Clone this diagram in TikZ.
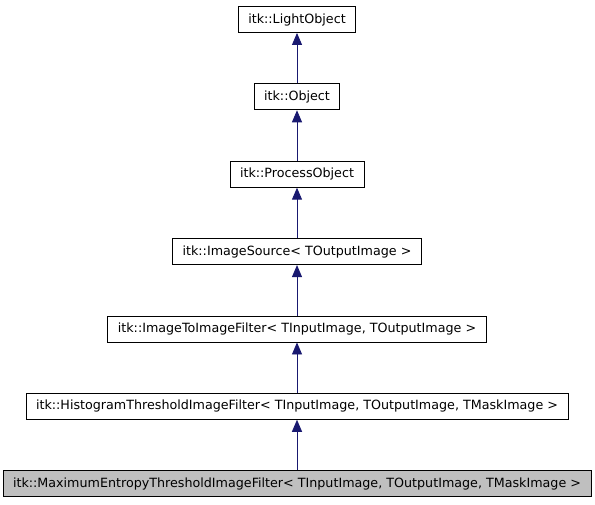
\documentclass[tikz,border=0pt]{standalone}
\usepackage{fontspec}
\setmainfont{DejaVu Sans}
\usetikzlibrary{arrows.meta}
\definecolor{edgeblue}{RGB}{25,25,112}

\begin{document}
\begin{tikzpicture}[x=1pt,y=1pt,font=\fontsize{12.7}{15}\selectfont,
 every node/.style={rectangle,draw=black,fill=white,line width=0.9pt,
 inner xsep=10pt,minimum height=26pt}]
 \useasboundingbox (0,0) rectangle (595,-504);
 \node (lo) at (297,-19.5) {itk::LightObject};
 \node (ob) at (297,-96.8) {itk::Object};
 \node (po) at (297,-174.2) {itk::ProcessObject};
 \node (is) at (297,-251.6) {itk::ImageSource< TOutputImage >};
 \node (iti) at (297,-329) {itk::ImageToImageFilter< TInputImage, TOutputImage >};
 \node (hti) at (297,-406.3) {itk::HistogramThresholdImageFilter< TInputImage, TOutputImage, TMaskImage >};
 \node[fill=black!25] (mti) at (297,-483.7) {itk::MaximumEntropyThresholdImageFilter< TInputImage, TOutputImage, TMaskImage >};
 \foreach \x/\y in {ob/lo,po/ob,is/po,iti/is,hti/iti,mti/hti}
   \draw[edgeblue,line width=0.9pt,-{Triangle[length=12pt,width=10pt]}] (\x)--(\y);
\end{tikzpicture}
\end{document}
